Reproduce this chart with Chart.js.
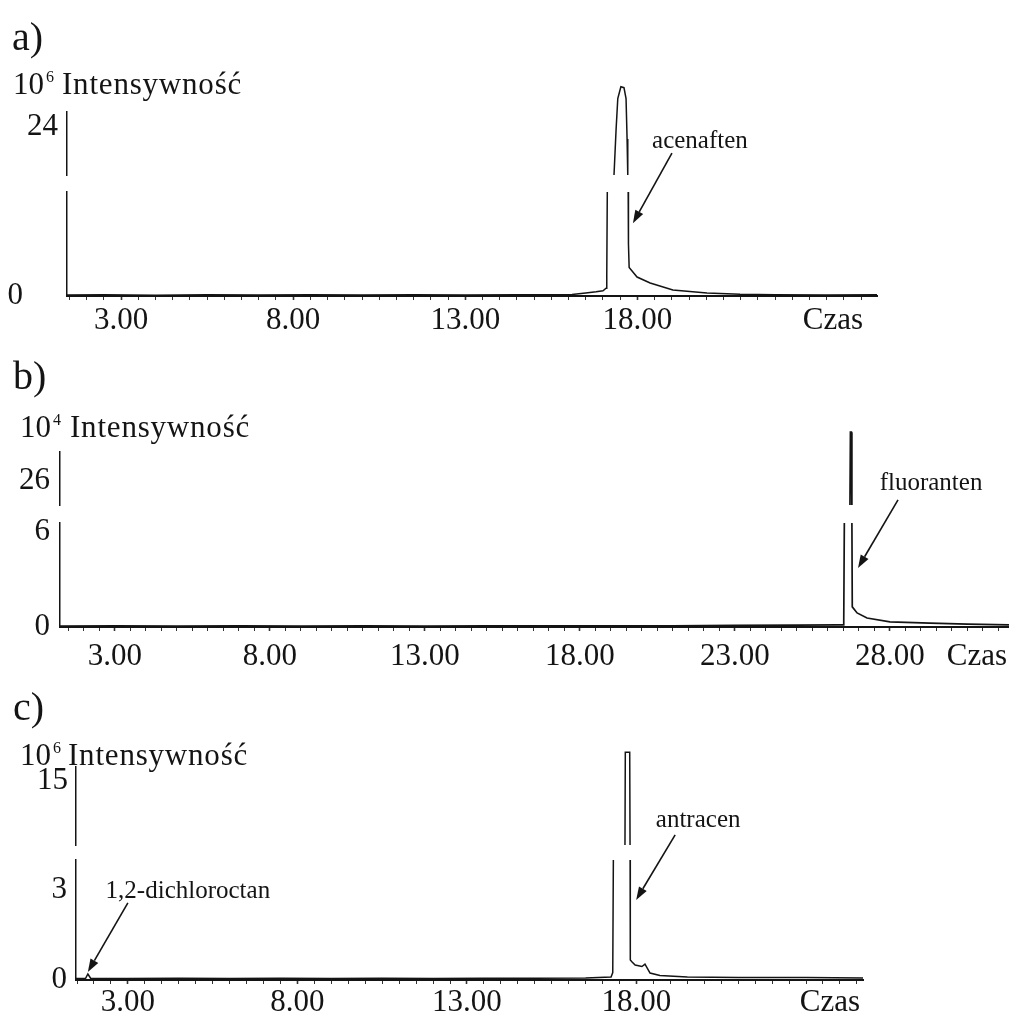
<!DOCTYPE html>
<html>
<head>
<meta charset="utf-8">
<script src="https://cdn.jsdelivr.net/npm/chart.js@4.4.1/dist/chart.umd.min.js"></script>
<style>
html,body{margin:0;padding:0;background:#fff;}
#wrap{position:relative;width:1009px;height:1016px;overflow:hidden;background:#fff;}
canvas{position:absolute;left:0;}
</style>
</head>
<body>
<div id="wrap">
<canvas id="ca" width="1009" height="340" style="top:0px"></canvas>
<canvas id="cb" width="1009" height="340" style="top:340px"></canvas>
<canvas id="cc" width="1009" height="336" style="top:680px"></canvas>
</div>
<script>
// ===== DATA =====
// Panel a) – acenaften, intensity in 10^6
const A_TIME = [1.43, 2.5, 4, 5.5, 7, 8.5, 10, 11.5, 13, 14.5, 15.5, 16.1, 16.5, 16.8, 17.0, 17.09, 17.11, 17.13, 17.32, 17.38, 17.43, 17.52, 17.61, 17.67, 17.70, 17.72, 17.73, 17.74, 17.76, 17.99, 18.37, 19.03, 20.02, 20.98, 22, 23.5, 24.96];
const A_INT  = [0.04, 0.05, 0.03, 0.05, 0.04, 0.05, 0.04, 0.05, 0.04, 0.05, 0.05, 0.06, 0.12, 0.16, 0.2, 0.3, 0.8, 5, 10, 20, 27, 29.6, 29.4, 27, 18, 10, 4.5, 2.0, 1.1, 0.73, 0.5, 0.23, 0.12, 0.07, 0.05, 0.04, 0.05];
const A_XLABELS = [3, 8, 13, 18];
const A_YLOW_TICKS = [0];
const A_YHIGH_TICKS = [24];

// Panel b) – fluoranten, intensity in 10^4
const B_TIME = [1.23, 3, 5, 7, 9, 11, 13, 15, 17, 19, 21, 23, 25, 26.3, 26.49, 26.51, 26.53, 26.71, 26.725, 26.755, 26.77, 26.775, 26.785, 26.94, 27.26, 28.0, 29.29, 30.5, 31.84];
const B_INT  = [0.06, 0.07, 0.06, 0.07, 0.06, 0.07, 0.06, 0.07, 0.07, 0.08, 0.08, 0.1, 0.12, 0.13, 0.13, 0.4, 7, 10, 32, 32, 10, 6.8, 1.27, 0.89, 0.57, 0.32, 0.25, 0.18, 0.13];
const B_XLABELS = [3, 8, 13, 18, 23, 28];
const B_YLOW_TICKS = [0, 6];
const B_YHIGH_TICKS = [26];

// Panel c) – 1,2-dichloroctan + antracen, intensity in 10^6
const C_TIME = [1.47, 1.75, 1.82, 1.9, 3, 4.5, 6, 7.5, 9, 10.5, 12, 13.5, 15, 16.5, 17.25, 17.30, 17.32, 17.65, 17.66, 17.67, 17.80, 17.81, 17.815, 17.82, 17.87, 17.96, 18.16, 18.25, 18.40, 18.69, 19.5, 21, 23, 24.68];
const C_INT  = [0.05, 0.05, 0.2, 0.06, 0.05, 0.06, 0.05, 0.06, 0.05, 0.06, 0.05, 0.06, 0.06, 0.07, 0.1, 0.25, 4.5, 4.8, 5, 16.9, 16.9, 5, 4.2, 0.67, 0.6, 0.5, 0.45, 0.53, 0.23, 0.15, 0.1, 0.08, 0.08, 0.07];
const C_XLABELS = [3, 8, 13, 18];
const C_YLOW_TICKS = [0, 3];
const C_YHIGH_TICKS = [15];

// ===== STYLE / LAYOUT =====
const FONT = '"Liberation Serif", "Times New Roman", serif';
const INK = '#141414';

const breakClip = {
  id: 'breakClip',
  beforeDatasetDraw(chart, args) {
    const ys = args.meta.yScale;
    const a = chart.chartArea;
    const top = ys.id === 'yHigh' ? 0 : ys.top;
    const bottom = ys.id === 'yLow' ? ys.bottom + 3 : ys.bottom;
    const ctx = chart.ctx;
    ctx.save();
    ctx.beginPath();
    ctx.rect(a.left, top, a.right - a.left, bottom - top);
    ctx.clip();
  },
  afterDatasetDraw(chart) { chart.ctx.restore(); }
};

function arrow(ctx, sx, sy, tx, ty) {
  const ang = Math.atan2(ty - sy, tx - sx);
  const L = 13, W = 4.5;
  const bx = tx - L * Math.cos(ang), by = ty - L * Math.sin(ang);
  ctx.strokeStyle = INK; ctx.lineWidth = 1.6;
  ctx.beginPath(); ctx.moveTo(sx, sy); ctx.lineTo(bx, by); ctx.stroke();
  ctx.fillStyle = INK;
  ctx.beginPath();
  ctx.moveTo(tx, ty);
  ctx.lineTo(bx + W * Math.sin(ang), by - W * Math.cos(ang));
  ctx.lineTo(bx - W * Math.sin(ang), by + W * Math.cos(ang));
  ctx.closePath(); ctx.fill();
}

function decor(p) {
  return {
    id: 'decor',
    afterDraw(chart) {
      const ctx = chart.ctx;
      const xs = chart.scales.x;
      ctx.save();
      ctx.fillStyle = INK;
      ctx.textAlign = 'left';
      ctx.textBaseline = 'alphabetic';
      ctx.font = `40px ${FONT}`;
      ctx.fillText(p.letter, p.letterPos[0], p.letterPos[1]);
      ctx.font = `31px ${FONT}`;
      ctx.fillText('10', p.headPos[0], p.headPos[1]);
      const w10 = ctx.measureText('10').width;
      ctx.font = `16px ${FONT}`;
      ctx.fillText(p.power, p.headPos[0] + w10 + 2, p.headPos[1] - 12);
      ctx.font = `31px ${FONT}`;
      if ('letterSpacing' in ctx) ctx.letterSpacing = '0.8px';
      ctx.fillText(p.yTitle, p.headPos[0] + p.titleDx, p.headPos[1]);
      if ('letterSpacing' in ctx) ctx.letterSpacing = '0px';
      ctx.textAlign = 'right';
      ctx.textBaseline = 'middle';
      ctx.fillText(p.xTitle, chart.chartArea.right - p.xTitleInset, xs.top + 4 + p.xPad + 31 * 0.6);
      p.notes.forEach(n => {
        const ys = chart.scales[n.axis];
        const tx = xs.getPixelForValue(n.t), ty = ys.getPixelForValue(n.v);
        arrow(ctx, tx + n.tail[0], ty + n.tail[1], tx, ty);
        ctx.fillStyle = INK;
        ctx.font = `25px ${FONT}`;
        ctx.textAlign = 'center';
        ctx.textBaseline = 'alphabetic';
        ctx.fillText(n.text, tx + n.label[0], ty + n.label[1]);
      });
      ctx.restore();
    }
  };
}

function buildPanel(id, p) {
  const pts = p.time.map((t, i) => ({ x: t, y: p.intensity[i] }));
  const minor = [];
  for (let k = Math.ceil(p.xMin * 2); k <= Math.floor(p.xMax * 2); k++) minor.push(k / 2);
  const tickFont = { family: FONT, size: 31 };
  const lineStyle = { borderColor: INK, borderWidth: p.lineWidth, pointRadius: 0, tension: 0, fill: false, clip: false };
  const fixY = s => { s.width = p.axisLeft; s.paddingTop = 0; s.paddingBottom = 0; };
  return new Chart(document.getElementById(id), {
    type: 'line',
    data: {
      datasets: [
        Object.assign({ label: p.name + ' (dół)', data: pts, yAxisID: 'yLow' }, lineStyle),
        Object.assign({ label: p.name + ' (góra)', data: pts, yAxisID: 'yHigh' }, lineStyle)
      ]
    },
    options: {
      responsive: false,
      devicePixelRatio: 1,
      animation: false,
      events: [],
      layout: { padding: { top: p.padTop, right: p.padRight, left: 0, bottom: 0 } },
      plugins: { legend: { display: false }, tooltip: { enabled: false }, title: { display: false } },
      scales: {
        x: {
          type: 'linear', position: 'bottom', min: p.xMin, max: p.xMax,
          afterBuildTicks: s => { s.ticks = minor.map(v => ({ value: v })); },
          afterFit: s => { s.height = p.xHeight; s.paddingLeft = 0; s.paddingRight = 0; },
          ticks: {
            autoSkip: false, maxRotation: 0, minRotation: 0, padding: p.xPad,
            font: tickFont, color: INK,
            callback: v => p.xLabels.includes(v) ? Number(v).toFixed(2) : ''
          },
          grid: { drawOnChartArea: false, drawTicks: true, tickLength: 4, tickColor: '#333',
                  tickWidth: c => (c.tick && p.xLabels.includes(c.tick.value)) ? 1.6 : 1 },
          border: { display: true, color: INK, width: 2 }
        },
        yHigh: {
          type: 'linear', position: 'left', stack: 'brk', stackWeight: p.wHigh, weight: 3,
          min: p.highMin, max: p.highMax,
          afterBuildTicks: s => { s.ticks = p.highTicks.map(v => ({ value: v })); },
          afterFit: fixY,
          ticks: { padding: p.highPad, labelOffset: p.highLabelOffset, font: tickFont, color: INK, callback: v => String(v) },
          grid: { drawOnChartArea: false, drawTicks: false },
          border: { display: true, color: INK, width: 1.5 }
        },
        yGap: {
          type: 'linear', position: 'left', stack: 'brk', stackWeight: p.wGap, weight: 2,
          afterFit: fixY,
          ticks: { display: false },
          grid: { display: false, drawTicks: false },
          border: { display: false }
        },
        yLow: {
          type: 'linear', position: 'left', stack: 'brk', stackWeight: p.wLow, weight: 1,
          min: 0, max: p.lowMax,
          afterBuildTicks: s => { s.ticks = p.lowTicks.map(v => ({ value: v })); },
          afterFit: fixY,
          ticks: { padding: p.lowPad, font: tickFont, color: INK, callback: v => String(v) },
          grid: { drawOnChartArea: false, drawTicks: false },
          border: { display: true, color: INK, width: 1.5 }
        }
      }
    },
    plugins: [breakClip, decor(p)]
  });
}

buildPanel('ca', {
  name: 'acenaften', time: A_TIME, intensity: A_INT, xLabels: A_XLABELS, lineWidth: 1.5,
  xMin: 1.43, xMax: 24.96, xHeight: 44, xPad: 2,
  padTop: 112, padRight: 132, axisLeft: 67,
  wHigh: 63, wGap: 17, wLow: 104,
  lowMax: 4, lowTicks: A_YLOW_TICKS, lowPad: 44,
  highMin: 10, highMax: 24, highTicks: A_YHIGH_TICKS, highPad: 9, highLabelOffset: 15,
  letter: 'a)', letterPos: [12, 50], headPos: [13, 94], power: '6', titleDx: 49,
  yTitle: 'Intensywność', xTitle: 'Czas', xTitleInset: 14,
  notes: [{ text: 'acenaften', axis: 'yLow', t: 17.87, v: 2.8, tail: [39, -70], label: [67, -75] }]
});

buildPanel('cb', {
  name: 'fluoranten', time: B_TIME, intensity: B_INT, xLabels: B_XLABELS, lineWidth: 1.7,
  xMin: 1.23, xMax: 31.84, xHeight: 53, xPad: 7,
  padTop: 112, padRight: 0, axisLeft: 60,
  wHigh: 53, wGap: 18, wLow: 104,
  lowMax: 6.57, lowTicks: B_YLOW_TICKS, lowPad: 10,
  highMin: 10, highMax: 26, highTicks: B_YHIGH_TICKS, highPad: 10, highLabelOffset: 29,
  letter: 'b)', letterPos: [13, 49], headPos: [20, 97], power: '4', titleDx: 50,
  yTitle: 'Intensywność', xTitle: 'Czas', xTitleInset: 2,
  notes: [{ text: 'fluoranten', axis: 'yLow', t: 26.97, v: 3.73, tail: [40, -68], label: [73, -78] }]
});

buildPanel('cc', {
  name: 'antracen', time: C_TIME, intensity: C_INT, xLabels: C_XLABELS, lineWidth: 1.5,
  xMin: 1.47, xMax: 24.68, xHeight: 36, xPad: 0,
  padTop: 87, padRight: 146, axisLeft: 76,
  wHigh: 78, wGap: 15, wLow: 120,
  lowMax: 4, lowTicks: C_YLOW_TICKS, lowPad: 9,
  highMin: 5, highMax: 15, highTicks: C_YHIGH_TICKS, highPad: 8, highLabelOffset: 14,
  letter: 'c)', letterPos: [13, 40], headPos: [20, 85], power: '6', titleDx: 48,
  yTitle: 'Intensywność', xTitle: 'Czas', xTitleInset: 3,
  notes: [
    { text: 'antracen', axis: 'yLow', t: 17.99, v: 2.67, tail: [39, -65], label: [62, -73] },
    { text: '1,2-dichloroctan', axis: 'yLow', t: 1.82, v: 0.27, tail: [40, -69], label: [100, -74] }
  ]
});
</script>
</body>
</html>
